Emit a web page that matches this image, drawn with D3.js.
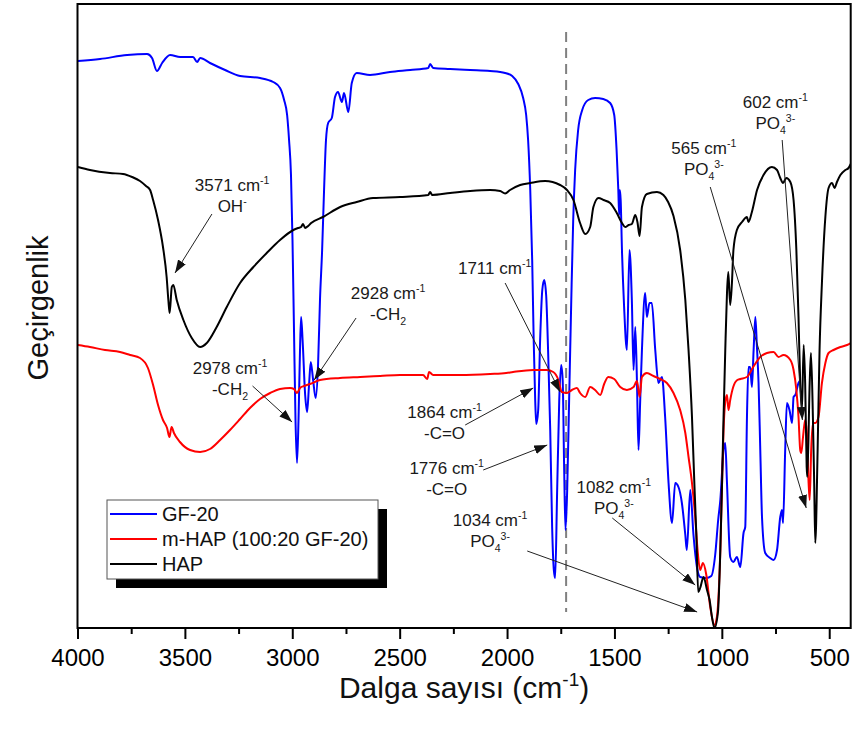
<!DOCTYPE html>
<html>
<head>
<meta charset="utf-8">
<script src="https://cdn.jsdelivr.net/npm/d3@7/dist/d3.min.js"></script>
<style>
  html, body { margin: 0; padding: 0; background: #fff; }
  svg { display: block; font-family: "Liberation Sans", Arial, Helvetica, sans-serif; }
</style>
</head>
<body>
<svg id="chart" width="856" height="738"></svg>
<script>
// FTIR transmittance spectra, [wavenumber (cm-1), transmittance (a.u.)]
const gf20 = [
[3998,113.4],[3895,113.8],[3769,114.6],[3676,114.8],[3653,114.0],[3630,111.4],[3606,113.0],[3569,114.6],[3522,114.2],[3490,114.2],[3462,114.2],[3443,113.2],[3429,114.0],[3383,113.0],[3313,111.6],[3243,110.4],[3150,110.0],[3089,109.2],[3057,108.0],[3038,105.6],[3024,102.6],[3015,97.6],[3006,90.6],[2999,77.6],[2992,59.6],[2985,41.6],[2978,33.0],[2971,41.6],[2964,55.6],[2959,62.2],[2952,57.6],[2940,46.6],[2931,43.2],[2922,48.6],[2914,53.2],[2903,49.6],[2891,46.0],[2880,52.6],[2871,65.6],[2861,75.6],[2852,87.6],[2843,97.6],[2833,101.0],[2816,102.0],[2801,106.2],[2787,107.2],[2769,105.2],[2759,107.0],[2739,103.2],[2723,109.0],[2700,111.0],[2638,110.6],[2545,111.2],[2451,111.6],[2367,112.0],[2358,112.8],[2344,112.0],[2265,111.8],[2172,111.6],[2079,111.4],[2009,111.0],[1976,110.4],[1948,108.8],[1925,106.0],[1911,102.6],[1902,97.6],[1892,87.6],[1883,73.6],[1876,57.6],[1869,45.6],[1864,40.8],[1855,43.6],[1846,57.6],[1836,67.6],[1827,69.6],[1818,66.6],[1809,55.6],[1799,39.6],[1790,20.0],[1782,11.5],[1776,10.0],[1767,27.0],[1757,45.6],[1748,52.6],[1741,49.6],[1734,31.6],[1728,19.6],[1720,27.6],[1711,45.6],[1701,65.6],[1692,81.6],[1683,91.6],[1669,99.6],[1650,103.6],[1622,105.6],[1590,106.0],[1552,105.8],[1520,105.0],[1501,102.6],[1490,95.6],[1482,87.6],[1478,82.6],[1475,87.6],[1471,85.6],[1465,75.6],[1455,64.2],[1442,55.6],[1430,75.6],[1419,65.6],[1411,51.6],[1403,60.2],[1395,49.0],[1388,35.6],[1380,45.6],[1372,55.6],[1357,67.0],[1349,62.2],[1337,65.0],[1326,65.0],[1310,55.6],[1295,49.0],[1279,50.2],[1264,42.2],[1248,29.0],[1232,21.0],[1217,29.0],[1202,28.2],[1186,25.0],[1170,18.6],[1163,15.6],[1147,27.6],[1132,18.6],[1116,12.2],[1101,10.2],[1073,10.0],[1049,10.4],[1031,14.6],[1017,21.6],[1007,25.6],[992,35.6],[984,37.0],[976,29.0],[961,14.2],[946,13.2],[930,14.2],[914,12.2],[899,19.0],[891,20.2],[883,42.2],[876,52.2],[868,52.2],[860,48.2],[852,55.6],[844,62.2],[837,56.6],[829,49.0],[821,35.6],[813,22.2],[798,15.0],[775,14.0],[759,13.6],[743,15.6],[728,22.2],[720,23.6],[715,21.0],[705,35.6],[697,45.0],[685,43.6],[673,41.0],[666,46.2],[658,46.6],[643,49.0],[635,49.6]
];

const mHap = [
[3998,56.6],[3942,56.2],[3872,55.6],[3802,55.2],[3755,54.6],[3709,54.0],[3672,52.0],[3648,48.6],[3625,44.6],[3602,41.6],[3583,40.0],[3572,38.2],[3562,40.2],[3551,39.0],[3523,37.2],[3476,35.6],[3429,35.2],[3383,35.8],[3336,37.6],[3290,39.6],[3243,41.8],[3197,44.0],[3150,45.8],[3103,47.0],[3057,47.8],[3010,48.0],[2992,47.8],[2978,47.0],[2964,48.0],[2945,48.4],[2917,48.8],[2871,49.6],[2778,50.0],[2684,50.2],[2591,50.4],[2498,50.6],[2391,50.6],[2372,49.8],[2363,51.2],[2344,50.6],[2218,50.6],[2079,50.8],[2004,51.0],[1972,51.2],[1878,51.6],[1815,51.6],[1785,51.2],[1761,49.6],[1745,47.2],[1721,47.0],[1698,47.6],[1675,48.0],[1660,47.0],[1636,46.2],[1613,48.2],[1590,47.6],[1566,46.6],[1548,48.8],[1529,50.2],[1501,49.8],[1473,48.2],[1442,47.6],[1411,48.2],[1395,49.4],[1383,46.2],[1372,50.2],[1349,51.0],[1318,50.4],[1287,49.8],[1256,49.0],[1225,47.0],[1194,43.6],[1170,39.0],[1155,34.2],[1139,29.0],[1124,22.2],[1113,15.6],[1101,11.6],[1088,13.0],[1073,10.8],[1054,4.2],[1035,0.6],[1023,2.2],[1007,15.6],[999,29.0],[992,39.6],[984,45.2],[976,46.6],[969,43.6],[961,45.6],[947,48.2],[928,49.6],[914,49.8],[883,50.2],[854,52.2],[821,54.2],[790,55.0],[759,55.2],[736,54.2],[713,54.6],[681,53.6],[666,51.6],[653,47.6],[643,42.2],[635,35.6],[630,35.0],[622,38.2],[612,41.6],[604,39.0],[596,29.0],[591,25.6],[584,35.6],[576,41.0],[565,41.0],[550,42.2],[534,49.0],[518,53.0],[503,55.0],[480,55.6],[448,56.2],[417,56.6],[400,57.0]
];

const hap = [
[3998,92.2],[3942,91.6],[3849,91.0],[3788,90.8],[3746,90.2],[3709,89.4],[3681,88.4],[3662,87.6],[3648,85.6],[3625,81.6],[3602,76.2],[3585,70.2],[3577,65.6],[3571,63.0],[3561,68.2],[3554,68.6],[3538,65.6],[3507,61.6],[3468,58.0],[3429,56.2],[3398,57.0],[3352,60.2],[3305,64.2],[3243,69.0],[3181,72.2],[3119,75.0],[3057,77.6],[2995,79.6],[2973,80.0],[2959,80.2],[2950,80.8],[2940,80.0],[2926,80.4],[2912,81.0],[2857,82.2],[2777,84.2],[2700,85.2],[2624,86.0],[2498,86.2],[2367,86.6],[2358,87.2],[2349,86.6],[2265,87.0],[2172,87.4],[2079,87.6],[2032,87.4],[2009,86.9],[1986,87.6],[1939,88.6],[1892,89.0],[1823,89.4],[1753,88.6],[1721,87.6],[1691,85.6],[1660,81.0],[1636,78.8],[1613,80.2],[1598,84.2],[1574,86.0],[1551,85.6],[1520,85.0],[1489,83.0],[1465,81.0],[1450,80.2],[1434,80.6],[1419,80.8],[1403,82.6],[1393,81.2],[1383,78.4],[1372,84.2],[1349,86.8],[1302,87.2],[1272,86.6],[1250,85.2],[1225,82.4],[1194,75.6],[1170,65.6],[1155,55.6],[1139,42.2],[1128,29.0],[1119,19.0],[1110,7.2],[1101,8.0],[1085,10.2],[1069,7.6],[1057,5.6],[1046,2.2],[1034,0.0],[1018,3.2],[1007,15.6],[999,29.0],[992,42.2],[984,55.6],[976,67.0],[970,71.2],[961,64.6],[953,69.0],[946,75.6],[930,79.6],[906,81.2],[883,82.2],[876,81.2],[860,83.2],[836,87.6],[806,90.6],[767,92.2],[743,91.6],[728,90.0],[715,89.0],[700,90.0],[681,89.2],[666,85.6],[653,75.6],[643,62.2],[635,49.0],[627,43.6],[619,56.6],[612,49.0],[605,32.2],[602,30.2],[591,49.0],[585,55.0],[576,42.2],[570,29.0],[565,17.0],[554,35.6],[545,55.6],[534,69.0],[518,82.2],[503,88.0],[487,89.0],[475,88.0],[464,89.2],[448,90.6],[425,91.6],[410,92.0],[400,92.8]
];

const majorTicks = [4000, 3500, 3000, 2500, 2000, 1500, 1000, 500];
const minorTicks = [3750, 3250, 2750, 2250, 1750, 1250, 750];
const seriesNames = ["GF-20", "m-HAP (100:20 GF-20)", "HAP"];
const seriesColors = ["#0000ff", "#ff0000", "#000000"];
const carbonylLine = 1725;

// Peak annotations: text parts (normal / sup / sub), text anchor and arrow in data space
const notes = [
  { lines: [[["3571 cm",""],["-1","sup"]], [["OH",""],["-","sup"]]], at: [3280, 87.4], from: [3374, 82.8], to: [3546, 71.0] },
  { lines: [[["2928 cm",""],["-1","sup"]], [["-CH",""],["2","sub"]]], at: [2554, 65.8], from: [2703, 62.0], to: [2898, 49.6] },
  { lines: [[["2978 cm",""],["-1","sup"]], [["-CH",""],["2","sub"]]], at: [3290, 50.8], from: [3185, 48.4], to: [3001, 41.2] },
  { lines: [[["1711 cm",""],["-1","sup"]]], at: [2058, 70.8], from: [2009, 69.0], to: [1753, 47.2] },
  { lines: [[["1864 cm",""],["-1","sup"]], [["-C=O",""]]], at: [2291, 42.0], from: [2195, 40.6], to: [1878, 48.0] },
  { lines: [[["1776 cm",""],["-1","sup"]], [["-C=O",""]]], at: [2281, 30.8], from: [2111, 31.6], to: [1813, 36.6] },
  { lines: [[["1082 cm",""],["-1","sup"]], [["PO",""],["4","sub"],["3-","sup"]]], at: [1503, 27.0], from: [1510, 22.0], to: [1124, 8.6] },
  { lines: [[["1034 cm",""],["-1","sup"]], [["PO",""],["4","sub"],["3-","sup"]]], at: [2079, 20.4], from: [1906, 15.4], to: [1115, 3.2] },
  { lines: [[["565 cm",""],["-1","sup"]], [["PO",""],["4","sub"],["3-","sup"]]], at: [1084, 94.8], from: [1054, 88.2], to: [607, 24.0] },
  { lines: [[["602 cm",""],["-1","sup"]], [["PO",""],["4","sub"],["3-","sup"]]], at: [751, 104.0], from: [719, 97.6], to: [625, 41.6] }
];

const svg = d3.select("#chart");
const plot = { left: 77.5, right: 850.7, top: 4, bottom: 628 };

const x = d3.scaleLinear().domain([4000, 400]).range([plot.left, plot.right]);
const y = d3.scaleLinear().domain([0, 125]).range([plot.bottom, 3]);

svg.append("defs").append("clipPath").attr("id", "plotClip")
  .append("rect")
  .attr("x", plot.left).attr("y", plot.top)
  .attr("width", plot.right - plot.left).attr("height", plot.bottom - plot.top);

svg.select("defs").append("marker")
  .attr("id", "head")
  .attr("markerUnits", "userSpaceOnUse")
  .attr("markerWidth", 14).attr("markerHeight", 10)
  .attr("refX", 13).attr("refY", 4.5)
  .attr("orient", "auto")
  .append("path").attr("d", "M0,0 L13,4.5 L0,9 Z").attr("fill", "#111");

// reference line for the carbonyl band
svg.append("line")
  .attr("x1", x(carbonylLine)).attr("x2", x(carbonylLine))
  .attr("y1", y(119.2)).attr("y2", y(3.2))
  .attr("stroke", "#808080").attr("stroke-width", 2)
  .attr("stroke-dasharray", "10,6");

const line = d3.line()
  .x(d => x(d[0])).y(d => y(d[1]))
  .curve(d3.curveMonotoneX);

const curves = svg.append("g").attr("clip-path", "url(#plotClip)");
[gf20, mHap, hap].forEach((s, i) => {
  curves.append("path")
    .datum(s)
    .attr("d", line)
    .attr("fill", "none")
    .attr("stroke", seriesColors[i])
    .attr("stroke-width", 2)
    .attr("stroke-linejoin", "round");
});

// rich text: normal, superscript and subscript runs
function richText(g, px, py, parts, size, anchor) {
  const t = g.append("text")
    .attr("x", px).attr("y", py)
    .attr("font-size", size)
    .attr("text-anchor", anchor)
    .attr("fill", "#1a1a1a");
  let shift = 0;
  parts.forEach(([s, mode]) => {
    const target = mode === "sup" ? -size * 0.42 : mode === "sub" ? size * 0.28 : 0;
    t.append("tspan")
      .attr("dy", target - shift)
      .attr("font-size", mode ? size * 0.62 : size)
      .text(s);
    shift = target;
  });
  return t;
}

const ann = svg.append("g");
notes.forEach(n => {
  ann.append("line")
    .attr("x1", x(n.from[0])).attr("y1", y(n.from[1]))
    .attr("x2", x(n.to[0])).attr("y2", y(n.to[1]))
    .attr("stroke", "#222").attr("stroke-width", 1)
    .attr("marker-end", "url(#head)");
  n.lines.forEach((parts, k) => {
    richText(ann, x(n.at[0]), y(n.at[1]) + k * 21, parts, 17, "middle");
  });
});

// frame
svg.append("rect")
  .attr("x", plot.left).attr("y", plot.top)
  .attr("width", plot.right - plot.left).attr("height", plot.bottom - plot.top)
  .attr("fill", "none").attr("stroke", "#000").attr("stroke-width", 2);

// bottom axis with major and minor ticks
const axisMajor = svg.append("g")
  .attr("transform", `translate(0,${plot.bottom})`)
  .call(d3.axisBottom(x).tickValues(majorTicks).tickSize(11).tickFormat(d3.format("d")));
axisMajor.select(".domain").remove();
axisMajor.selectAll(".tick line").attr("stroke", "#000").attr("stroke-width", 2);
axisMajor.selectAll(".tick text")
  .attr("y", 21).attr("dy", "0.71em")
  .attr("font-size", 24)
  .attr("font-family", "Liberation Sans, Arial, sans-serif")
  .attr("fill", "#000");

const axisMinor = svg.append("g")
  .attr("transform", `translate(0,${plot.bottom})`)
  .call(d3.axisBottom(x).tickValues(minorTicks).tickSize(6).tickFormat(""));
axisMinor.select(".domain").remove();
axisMinor.selectAll(".tick line").attr("stroke", "#000").attr("stroke-width", 2);

// axis titles
const xTitle = svg.append("text")
  .attr("x", (plot.left + plot.right) / 2).attr("y", 698)
  .attr("text-anchor", "middle").attr("font-size", 30).attr("fill", "#111");
xTitle.append("tspan").text("Dalga sayısı (cm");
xTitle.append("tspan").attr("dy", -12).attr("font-size", 19).text("-1");
xTitle.append("tspan").attr("dy", 12).text(")");

svg.append("text")
  .attr("transform", "translate(38,308) rotate(-90)")
  .attr("text-anchor", "middle").attr("dy", "0.35em")
  .attr("font-size", 29).attr("fill", "#111")
  .text("Geçirgenlik");

// legend with drop shadow
const lg = svg.append("g");
lg.append("rect").attr("x", 116).attr("y", 509).attr("width", 271).attr("height", 79).attr("fill", "#000");
lg.append("rect").attr("x", 107).attr("y", 500).attr("width", 271).attr("height", 79)
  .attr("fill", "#fff").attr("stroke", "#555").attr("stroke-width", 1);
seriesNames.forEach((name, i) => {
  const cy = 514 + i * 25;
  lg.append("line").attr("x1", 110).attr("x2", 157).attr("y1", cy).attr("y2", cy)
    .attr("stroke", seriesColors[i]).attr("stroke-width", 2);
  lg.append("text").attr("x", 162).attr("y", cy + 7)
    .attr("font-size", 20).attr("fill", "#111").text(name);
});
</script>
</body>
</html>
